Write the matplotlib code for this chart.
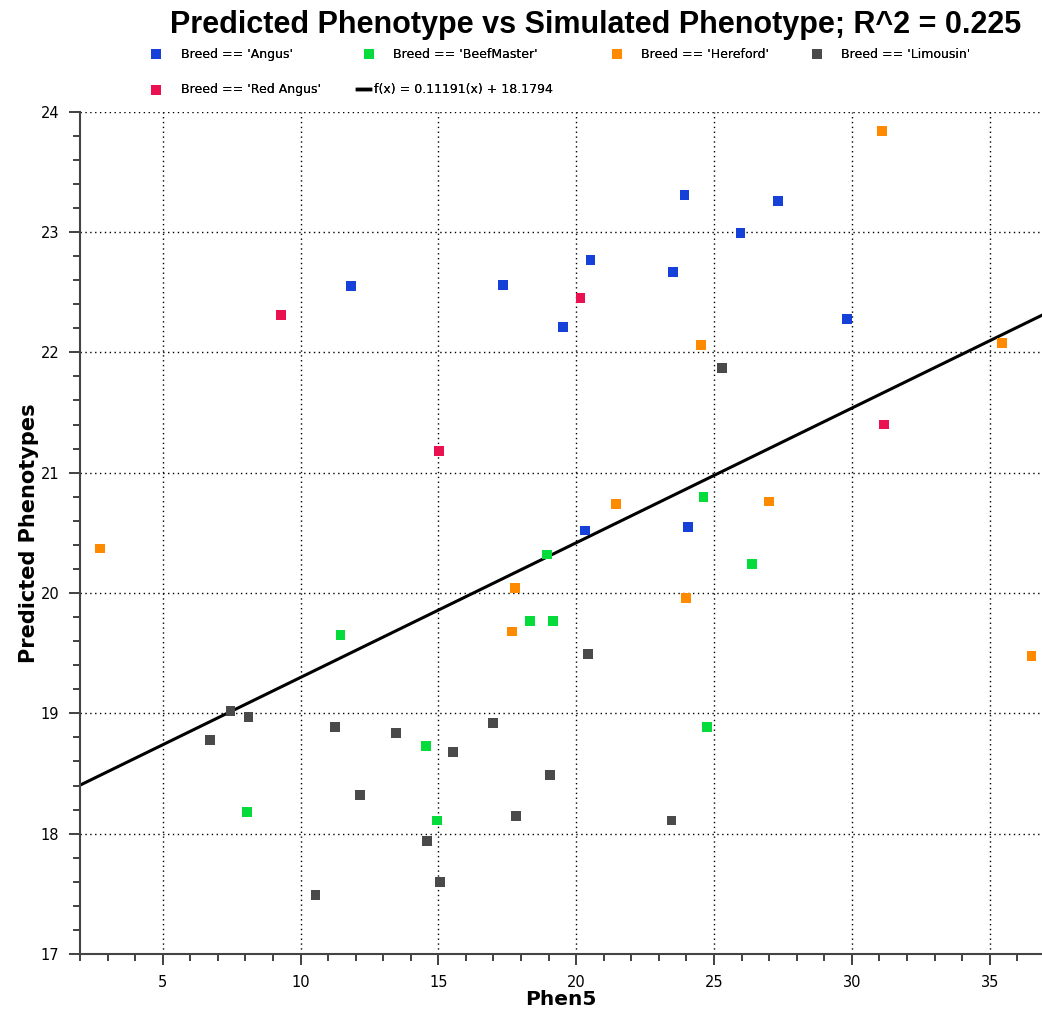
import matplotlib
matplotlib.use('AGG')
import matplotlib.pyplot as plt
from matplotlib.lines import Line2D
from matplotlib.ticker import MultipleLocator
import numpy as np

# values
angus_x = [11.84, 17.34, 19.52, 20.52, 20.33, 23.50, 23.93, 24.05, 25.96, 27.33, 29.83]
angus_y = [22.55, 22.56, 22.21, 22.77, 20.52, 22.67, 23.31, 20.55, 22.99, 23.26, 22.28]

beef_x = [8.06, 11.45, 14.54, 14.95, 18.31, 18.94, 19.16, 24.62, 24.74, 26.38]
beef_y = [18.18, 19.65, 18.73, 18.11, 19.77, 20.32, 19.77, 20.80, 18.89, 20.24]

here_x = [2.73, 17.66, 17.77, 21.44, 23.99, 24.52, 27.01, 31.10, 35.45, 36.52]
here_y = [20.37, 19.68, 20.04, 20.74, 19.96, 22.06, 20.76, 23.84, 22.08, 19.48]

limo_x = [6.73, 7.46, 8.11, 10.54, 11.25, 12.15, 13.47, 14.58, 15.05, 15.54,
          16.97, 17.83, 19.04, 20.42, 23.46, 25.30]
limo_y = [18.78, 19.02, 18.97, 17.49, 18.89, 18.32, 18.84, 17.94, 17.60, 18.68,
          18.92, 18.15, 18.49, 19.49, 18.11, 21.87]

red_x = [9.28, 15.01, 20.16, 31.16]
red_y = [22.31, 21.18, 22.45, 21.40]

slope = 0.11191
intercept = 18.1794

groups = [
    ("Breed == 'Angus'", angus_x, angus_y, '#1541d8'),
    ("Breed == 'BeefMaster'", beef_x, beef_y, '#05dc3c'),
    ("Breed == 'Hereford'", here_x, here_y, '#ff8a00'),
    ("Breed == 'Limousin'", limo_x, limo_y, '#4a4a4a'),
    ("Breed == 'Red Angus'", red_x, red_y, '#ea1150'),
]

fig = plt.figure(figsize=(10.42, 10.21), dpi=100)
ax = fig.add_axes([0.0768, 0.0656, 0.9232, 0.825])

handles = []
for label, xs, ys, col in groups:
    h = ax.scatter(xs, ys, marker='s', s=50, color=col, edgecolors='none',
                   label=label, zorder=3)
    handles.append(h)

xmin, xmax = 2.0, 36.9
xl = np.array([xmin, xmax])
line, = ax.plot(xl, slope * xl + intercept, color='black', lw=2.2, zorder=2,
                label='f(x) = 0.11191(x) + 18.1794')

ax.set_xlim(xmin, xmax)
ax.set_ylim(17, 24)
ax.xaxis.set_major_locator(MultipleLocator(5))
ax.xaxis.set_minor_locator(MultipleLocator(1))
ax.yaxis.set_major_locator(MultipleLocator(1))
ax.yaxis.set_minor_locator(MultipleLocator(0.2))
ax.grid(True, which='major', color='black', linestyle=(0, (1, 2.5)), lw=1.0)

for s in ['top', 'right']:
    ax.spines[s].set_visible(False)
for s in ['left', 'bottom']:
    ax.spines[s].set_color('#444444')
    ax.spines[s].set_linewidth(1.5)

ax.tick_params(which='major', direction='out', length=8, width=1.3, color='#333333',
               labelsize=10.5, pad=7)
ax.tick_params(which='minor', direction='out', length=5, width=1.3, color='#333333')
ax.set_xticks([5, 10, 15, 20, 25, 30, 35])

ax.set_xlabel('Phen5', fontsize=14.5, fontweight='bold', labelpad=0)
ax.set_ylabel('Predicted Phenotypes', fontsize=15, fontweight='bold', labelpad=1)

fig.text(0.572, 0.976, 'Predicted Phenotype vs Simulated Phenotype; R^2 = 0.225',
         ha='center', va='center', fontsize=22, fontweight='bold',
         family=['Liberation Sans', 'DejaVu Sans'])

# legend entries flow left to right like the original widget
short_line = Line2D([0], [0], color='black', lw=2.5)
entries = [
    (handles[0], groups[0][0], 0.144, 0.947, 1.45),
    (handles[1], groups[1][0], 0.348, 0.947, 1.45),
    (handles[2], groups[2][0], 0.586, 0.947, 1.45),
    (handles[3], groups[3][0], 0.778, 0.947, 1.45),
    (handles[4], groups[4][0], 0.144, 0.912, 1.45),
    (short_line, line.get_label(), 0.343, 0.912, 0.3),
]
for h, lab, ex, ey, pad in entries:
    leg = fig.legend([h], [lab], loc='center left', bbox_to_anchor=(ex, ey),
                     frameon=False, fontsize=9, markerscale=1.0, borderpad=0,
                     borderaxespad=0, handletextpad=pad, handlelength=1.0)
    fig.add_artist(leg)

fig.savefig('out.png', dpi=100)
